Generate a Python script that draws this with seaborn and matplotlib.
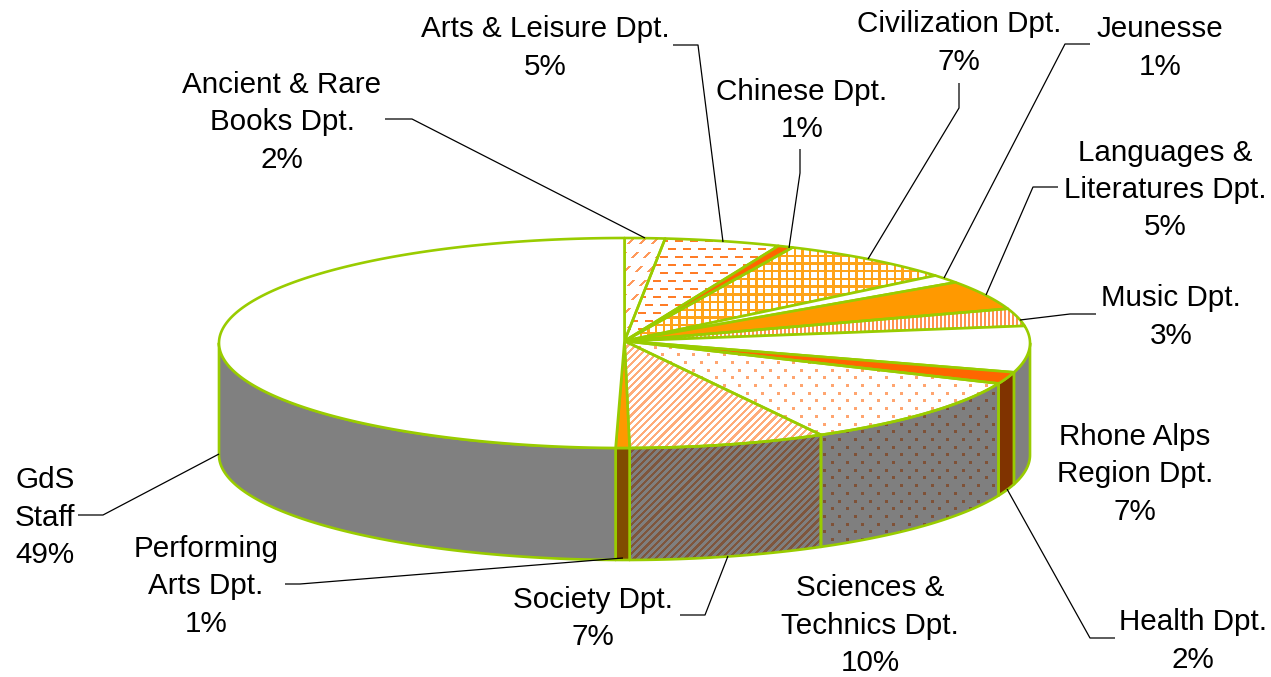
import matplotlib

matplotlib.use("Agg")

import matplotlib.pyplot as plt
import numpy as np
import seaborn as sns
from matplotlib.patches import Polygon

# Slices clockwise from 12 o'clock
departments = [
    "Ancient & Rare\nBooks Dpt.",
    "Arts & Leisure Dpt.",
    "Chinese Dpt.",
    "Civilization Dpt.",
    "Jeunesse",
    "Languages &\nLiteratures Dpt.",
    "Music Dpt.",
    "Rhone Alps\nRegion Dpt.",
    "Health Dpt.",
    "Sciences &\nTechnics Dpt.",
    "Society Dpt.",
    "Performing\nArts Dpt.",
    "GdS\nStaff",
]
printed_pct = [2, 5, 1, 7, 1, 5, 3, 7, 2, 10, 7, 1, 49]
# Share of the ellipse each slice takes in the picture (the 3D view skews them)
drawn_share = [1.6, 4.6, 0.6, 7.1, 1.3, 4.5, 2.7, 7.1, 1.8, 10.65, 7.85, 0.55, 49.65]

fills = [
    "dash_diag", "dash_horiz", "solid_red", "grid", "white", "solid_orange", "stripes",
    "white", "solid_red", "dots", "diag", "solid_orange", "white",
]

label_xy = [
    (282, 122.5), (545, 48), (802, 110.5), (959, 43), (1160, 48), (1165, 190), (1171, 317),
    (1135, 474.5), (1193, 641), (870, 625.5), (593, 618.5), (206, 586.5), (45, 517.5),
]
leaders = [
    [(385, 119), (412, 119), (645, 238)],
    [(673, 45), (698, 45), (723, 242)],
    [(800, 149), (800, 173), (789, 248)],
    [(959, 83), (959, 108), (868, 259)],
    [(1090, 44), (1065, 44), (944, 278)],
    [(1058, 187), (1033, 187), (986, 295)],
    [(1096, 314), (1070, 314), (1020, 320)],
    [],
    [(1115, 638), (1090, 638), (1007, 489)],
    [],
    [(680, 615), (705, 615), (728, 556)],
    [(285, 584), (300, 584), (623, 558)],
    [(78, 515), (103, 515), (219, 454)],
]

W, H = 1271, 677
CX, CY, RX, RY, DEPTH = 624.5, 343, 405.5, 105, 112
GREEN = "#99CC00"
ORANGE = (1.0, 0.6, 0.0)
RED = (1.0, 0.4, 0.0)
SOFT = (1.0, 0.5, 0.2)


def pattern(name):
    yy, xx = np.mgrid[0:H, 0:W].astype(float)
    if name == "dash_diag":
        row = yy // 14
        return (((xx + yy + row * 6) % 12 < 2.5) & (yy % 14 < 6)) * 0.8, SOFT
    if name == "dash_horiz":
        row = yy // 8
        return (((xx + row * 7.5) % 15 < 8) & (yy % 8 < 2)) * 0.85, RED
    if name == "grid":
        return (((xx % 7.7) < 2.4) | ((yy % 7.7) < 2.4)) * 0.9, ORANGE
    if name == "stripes":
        return ((xx % 4) < 2) * 0.85, SOFT
    if name == "dots":
        a = (np.abs((xx % 15.4) - 7.7) < 1.5) & (np.abs((yy % 15.4) - 7.7) < 1.5)
        b = (np.abs(((xx + 7.7) % 15.4) - 7.7) < 1.5) & (np.abs(((yy + 7.7) % 15.4) - 7.7) < 1.5)
        return (a | b) * 0.7, SOFT
    if name == "diag":
        return ((xx + yy) % 7.3 < 3.2) * 0.65, SOFT
    return np.zeros((H, W)), (1, 1, 1)


def textured(ax, name, xy, shade):
    # Flat fills are plain polygons, patterned ones a pixel texture clipped to the polygon
    flat = {"white": (1, 1, 1), "solid_red": RED, "solid_orange": ORANGE}
    patch_kw = dict(closed=True, edgecolor=GREEN, linewidth=1.9, joinstyle="round")
    if name in flat:
        colour = tuple(c * shade for c in flat[name])
        ax.add_patch(Polygon(xy, facecolor=colour, **patch_kw))
        return
    mask, colour = pattern(name)
    img = (1 - mask[..., None]) + mask[..., None] * np.array(colour)
    outline = Polygon(xy, facecolor="none", **patch_kw)
    ax.add_patch(outline)
    shown = ax.imshow(img * shade, extent=(0, W, H, 0), interpolation="nearest", zorder=outline.get_zorder() - 0.1, aspect="auto")
    shown.set_clip_path(outline)


def rim(t0, t1):
    t = np.radians(np.linspace(t0, t1, max(int(abs(t1 - t0) * 2), 2)))
    return np.column_stack([CX + RX * np.sin(t), CY - RY * np.cos(t)])


sns.set_theme(style="white")
plt.rcParams["font.family"] = ["Liberation Sans", "DejaVu Sans"]

fig, ax = plt.subplots(figsize=(W / 100, H / 100), dpi=100)
ax.set_position((0, 0, 1, 1))
ax.set_xlim(0, W)
ax.set_ylim(H, 0)
ax.axis("off")

edges = np.concatenate([[0], np.cumsum(drawn_share)]) * 3.6
edges[-1] = 360

# Walls first, only the part of each slice facing the viewer
for name, t0, t1 in zip(fills, edges[:-1], edges[1:]):
    a, b = max(t0, 90), min(t1, 270)
    if a >= b:
        continue
    top = rim(a, b)
    wall = np.vstack([top, top[::-1] + [0, DEPTH]])
    textured(ax, name, wall, 0.5)

for name, t0, t1 in zip(fills, edges[:-1], edges[1:]):
    textured(ax, name, np.vstack([[CX, CY - 2], rim(t0, t1)]), 1.0)

for label, pct, (x, y), line in zip(departments, printed_pct, label_xy, leaders):
    ax.text(x, y, f"{label}\n{pct}%", ha="center", va="center", fontsize=21.3, color="black", linespacing=1.41, zorder=6)
    if line:
        ax.plot(*zip(*line), color="black", lw=0.9, solid_capstyle="butt", zorder=5)

fig.savefig("out.png", dpi=100, facecolor="white")
